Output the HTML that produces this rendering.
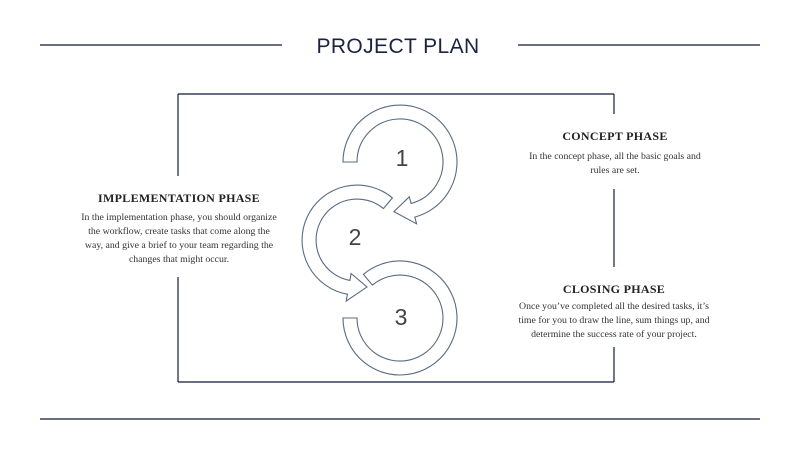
<!DOCTYPE html>
<html><head><meta charset="utf-8"><style>
html,body{margin:0;padding:0;background:#fff;}
body{width:800px;height:460px;position:relative;overflow:hidden;font-family:"Liberation Serif",serif;}
.t{position:absolute;text-align:center;color:#333;}
.h{font-weight:bold;font-size:12px;color:#222;letter-spacing:0.3px;}
.b{font-size:9.8px;line-height:14px;color:#333;}
</style></head><body>
<svg width="800" height="460" style="position:absolute;left:0;top:0">
<g stroke="#0f1a38" stroke-width="1.2" fill="none">
<line x1="40" y1="45" x2="282" y2="45"/>
<line x1="518" y1="45" x2="760" y2="45"/>
<line x1="40" y1="419" x2="760" y2="419"/>
<line x1="178" y1="94" x2="614" y2="94"/>
<line x1="178" y1="382" x2="614" y2="382"/>
<line x1="178" y1="94" x2="178" y2="176"/>
<line x1="178" y1="277" x2="178" y2="382"/>
<line x1="614" y1="94" x2="614" y2="114"/>
<line x1="614" y1="189" x2="614" y2="267"/>
<line x1="614" y1="347" x2="614" y2="382"/>
</g>
<g stroke="#5a6b80" stroke-width="1.1" fill="#fff">
<path d="M 363.4 274.3 A57 57 0 1 1 343 318 L 357 318 A43 43 0 1 0 372.4 285.1 Z"/>
<path d="M 392.4 197.9 A55 55 0 1 0 347.4 294.2 L 346.2 301.1 L 367 287 L 351.1 273.5 L 349.9 280.4 A41 41 0 1 1 383.4 208.6 Z"/>
<path d="M 343 162 A57 57 0 1 1 414.8 217.1 L 416.6 223.8 L 393.9 211.6 L 409.3 196.8 L 411.1 203.5 A 43 43 0 1 0 357 162 Z"/>
</g>
<g font-family="Liberation Sans, sans-serif" font-size="23" fill="#444" text-anchor="middle">
<text x="402" y="166">1</text>
<text x="355" y="245">2</text>
<text x="401" y="325">3</text>
</g>
<text x="398" y="53" text-anchor="middle" font-family="Liberation Sans, sans-serif" font-size="21" fill="#1a2340" letter-spacing="0.4">PROJECT PLAN</text>
</svg>
<div class="t" style="left:505px;width:220px;top:129px"><div class="h">CONCEPT PHASE</div><div class="b" style="margin-top:6px">In the concept phase, all the basic goals and<br>rules are set.</div></div>
<div class="t" style="left:504px;width:220px;top:282px"><div class="h">CLOSING PHASE</div><div class="b" style="margin-top:3px">Once you’ve completed all the desired tasks, it’s<br>time for you to draw the line, sum things up, and<br>determine the success rate of your project.</div></div>
<div class="t" style="left:59px;width:240px;top:191px"><div class="h">IMPLEMENTATION PHASE</div><div class="b" style="margin-top:5px">In the implementation phase, you should organize<br>the workflow, create tasks that come along the<br>way, and give a brief to your team regarding the<br>changes that might occur.</div></div>
</body></html>
